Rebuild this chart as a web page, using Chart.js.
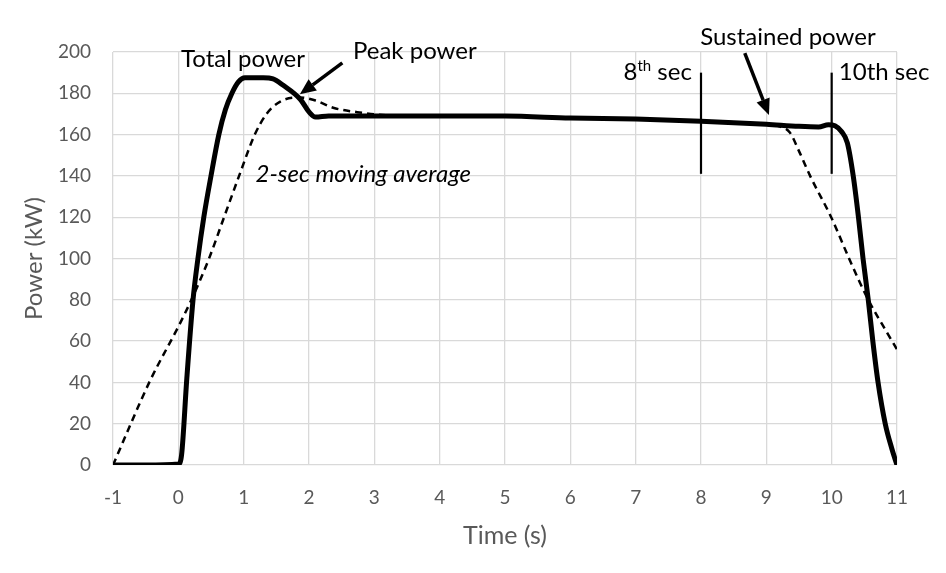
<!DOCTYPE html>
<html>
<head>
<meta charset="utf-8">
<script src="https://cdn.jsdelivr.net/npm/chart.js@4.4.1/dist/chart.umd.min.js"></script>
<style>
  html, body { margin: 0; padding: 0; background: #fff; }
  #wrap { width: 946px; height: 573px; }
</style>
</head>
<body>
<div id="wrap"><canvas id="chart" width="946" height="573"></canvas></div>
<script>
// total power (solid line)
var totalT = [-1, -0.5, 0, 0.05, 0.13, 0.225, 0.3, 0.39, 0.5, 0.62, 0.72, 0.82, 0.92, 1.02, 1.3, 1.45, 1.6, 1.87, 2.0, 2.1, 2.3, 3, 4, 5, 6, 7, 8, 9, 9.5, 9.8, 9.95, 10.05, 10.15, 10.24, 10.33, 10.41, 10.48, 10.56, 10.63, 10.71, 10.82, 10.92, 11];
var totalP = [0, 0, 0.5, 5, 42, 80, 100, 120, 140, 160, 172, 180, 185.5, 187.5, 187.5, 187, 184, 177, 171, 168.5, 169, 169, 169, 169, 168, 167.5, 166.5, 165, 164, 163.7, 164.8, 164.3, 161.5, 156, 140, 120, 100, 80, 60, 40, 20, 8, 0];

// 2-sec moving average (dashed line)
var avgT = [-1, -0.43, 0, 0.2, 0.47, 0.7, 0.93, 1.17, 1.35, 1.56, 1.85, 2.1, 2.37, 2.83, 3.2, 4, 5, 6, 7, 8, 9, 9.2, 9.36, 9.5, 9.67, 10, 10.28, 10.56, 10.85, 11];
var avgP = [0, 41, 67, 80, 100, 120, 140, 160, 170, 176, 178, 176.5, 173, 170.5, 169.3, 169, 169, 168, 167.5, 166.5, 165, 164, 161, 152, 140, 119.5, 99, 80, 64, 56];

// vertical markers at 8th and 10th second
var markerT = [8, 10];
var markerP = [141, 190];

var xTicks = [-1, 0, 1, 2, 3, 4, 5, 6, 7, 8, 9, 10, 11];
var yTicks = [0, 20, 40, 60, 80, 100, 120, 140, 160, 180, 200];

var FONT = 'Lato, "Open Sans", sans-serif';
var GREY = '#595959';

function toPoints(xs, ys) {
    return xs.map(function (x, i) { return { x: x, y: ys[i] }; });
}

var datasets = [
    { data: toPoints(totalT, totalP), borderColor: '#000', borderWidth: 5, pointRadius: 0, cubicInterpolationMode: 'monotone', fill: false },
    { data: toPoints(avgT, avgP), borderColor: '#000', borderWidth: 2.5, borderDash: [7, 5], pointRadius: 0, cubicInterpolationMode: 'monotone', fill: false }
];
markerT.forEach(function (t) {
    datasets.push({ data: toPoints([t, t], markerP), borderColor: '#000', borderWidth: 2.2, pointRadius: 0, fill: false });
});

function arrow(ctx, x1, y1, x2, y2) {
    var ang = Math.atan2(y2 - y1, x2 - x1);
    var head = 16, wing = 7;
    var bx = x2 - head * Math.cos(ang), by = y2 - head * Math.sin(ang);
    ctx.beginPath();
    ctx.moveTo(x1, y1);
    ctx.lineTo(bx, by);
    ctx.lineWidth = 3.5;
    ctx.strokeStyle = '#000';
    ctx.stroke();
    ctx.beginPath();
    ctx.moveTo(x2, y2);
    ctx.lineTo(bx + wing * Math.sin(ang), by - wing * Math.cos(ang));
    ctx.lineTo(bx - wing * Math.sin(ang), by + wing * Math.cos(ang));
    ctx.closePath();
    ctx.fillStyle = '#000';
    ctx.fill();
}

var notes = {
    id: 'notes',
    afterDatasetsDraw: function (chart) {
        var ctx = chart.ctx, xs = chart.scales.x, ys = chart.scales.y;
        function px(t) { return xs.getPixelForValue(t); }
        function py(v) { return ys.getPixelForValue(v); }
        ctx.save();
        ctx.fillStyle = '#000';
        ctx.textBaseline = 'alphabetic';
        ctx.font = '24px ' + FONT;
        ctx.textAlign = 'center';
        ctx.fillText('Total power', px(0.99), py(192.7));
        ctx.fillText('Peak power', px(3.62), py(196.6));
        ctx.fillText('Sustained power', px(9.33), py(203.4));
        ctx.textAlign = 'left';
        ctx.fillText('10th sec', px(10.11), py(186.4));
        // 8th sec with superscript
        ctx.textAlign = 'right';
        var right = px(7.86), base = py(186.4);
        var sec = ' sec';
        var wSec = ctx.measureText(sec).width;
        ctx.fillText(sec, right, base);
        ctx.font = '15px ' + FONT;
        var wTh = ctx.measureText('th').width;
        ctx.fillText('th', right - wSec, base - 9);
        ctx.font = '24px ' + FONT;
        ctx.fillText('8', right - wSec - wTh, base);
        ctx.textAlign = 'center';
        ctx.font = 'italic 24px ' + FONT;
        ctx.fillText('2-sec moving average', px(2.83), py(137));
        arrow(ctx, px(2.51), py(194.7), px(1.86), py(179.5));
        arrow(ctx, px(8.67), py(199.5), px(9.04), py(169.5));
        ctx.restore();
    }
};

new Chart(document.getElementById('chart'), {
    type: 'line',
    data: { datasets: datasets },
    options: {
        responsive: false,
        animation: false,
        layout: { padding: { left: 16, right: 49, top: 52, bottom: 10 } },
        plugins: { legend: { display: false }, tooltip: { enabled: false } },
        scales: {
            x: {
                type: 'linear', min: -1, max: 11,
                afterBuildTicks: function (s) { s.ticks = xTicks.map(function (v) { return { value: v }; }); },
                afterFit: function (s) { s.height = 573 - 465 - 10; },
                grid: { color: '#d9d9d9', lineWidth: 1.3, drawTicks: false },
                border: { display: false },
                ticks: { color: GREY, font: { family: FONT, size: 19 }, padding: 21 },
                title: { display: true, text: 'Time (s)', color: GREY, font: { family: FONT, size: 25 }, padding: { top: 8, bottom: 12 } }
            },
            y: {
                min: 0, max: 200,
                afterBuildTicks: function (s) { s.ticks = yTicks.map(function (v) { return { value: v }; }); },
                afterFit: function (s) { s.width = 113 - 16; },
                grid: { color: '#d9d9d9', lineWidth: 1.3, drawTicks: false },
                border: { display: false },
                ticks: { color: GREY, font: { family: FONT, size: 19 }, padding: 22 },
                title: { display: true, text: 'Power (kW)', color: GREY, font: { family: FONT, size: 24 }, padding: { bottom: 6 } }
            }
        }
    },
    plugins: [notes]
});
</script>
</body>
</html>
